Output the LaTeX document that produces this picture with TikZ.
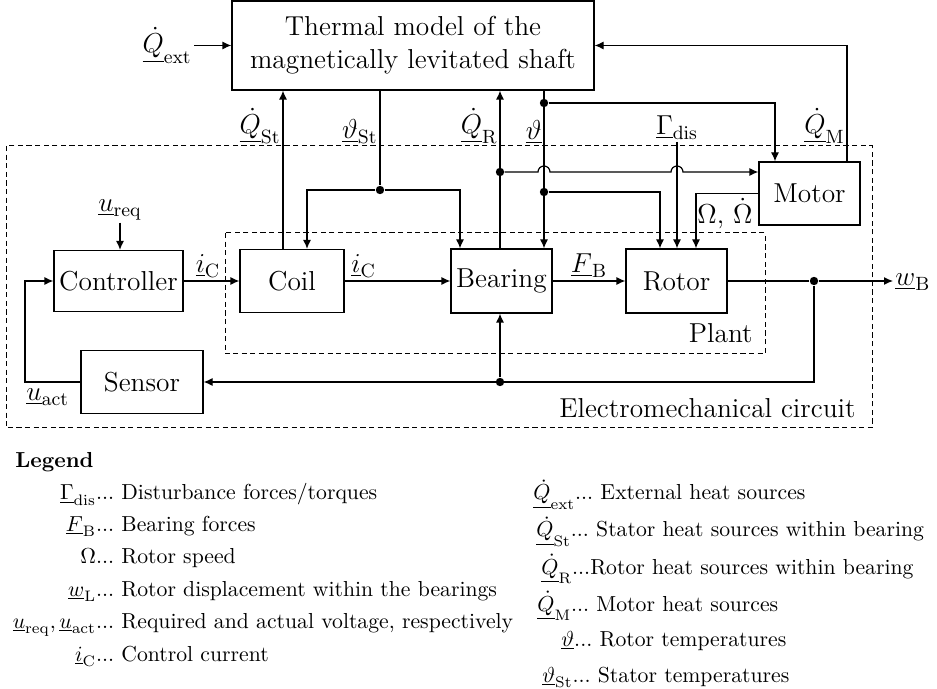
\RequirePackage{fix-cm}
\documentclass[tikz,border=0pt]{standalone}
\usetikzlibrary{arrows.meta}
\newcommand\diagfont{\fontsize{13.7}{16.4}\selectfont}
\newcommand\legfont{\fontsize{10.85}{13}\selectfont\frenchspacing}
\tikzset{
  blk/.style={draw, line width=0.6pt, inner sep=0pt, font=\diagfont},
  conn/.style={line width=0.6pt},
  arr/.style={conn, -{Latex[length=4.5pt,width=4pt]}},
  jdot/.style={circle, fill, inner sep=0pt, minimum size=4.2pt},
  dbox/.style={draw, line width=0.5pt, dash pattern=on 2.6pt off 1.7pt},
  lbl/.style={font=\diagfont, inner sep=1pt},
  leg/.style={font=\legfont, inner sep=0pt},
}
\begin{document}
\begin{tikzpicture}[x=0.5pt, y=-0.5pt]
\useasboundingbox (0,0) rectangle (937,689);

% dashed frames
\draw[dbox] (6,146) rectangle (872,428);
\draw[dbox] (225,233) rectangle (765,354);
\node[lbl, anchor=base east] (emc) at (858,418) {Electromechanical circuit};
\node[lbl, anchor=base east] (plant) at (755,343) {Plant};

% blocks
\node[blk, minimum width=181pt, minimum height=44.5pt, align=center] (thermal) at (413,45.5) {Thermal model of the\\magnetically levitated shaft};
\node[blk, minimum width=64.5pt, minimum height=30.5pt] (controller) at (118.5,281) {Controller};
\node[blk, minimum width=52pt, minimum height=31.5pt] (coil) at (292,281) {Coil};
\node[blk, minimum width=50.5pt, minimum height=32pt] (bearing) at (501.5,281) {Bearing};
\node[blk, minimum width=50.5pt, minimum height=32pt] (rotor) at (676.5,281) {Rotor};
\node[blk, minimum width=61pt, minimum height=31.5pt] (sensor) at (142,382) {Sensor};
\node[blk, minimum width=50.5pt, minimum height=31.5pt] (motor) at (809.5,193.5) {Motor};

% junction dots
\node[jdot] (dst) at (380,190) {};
\node[jdot] (dth1) at (544,103) {};
\node[jdot] (dqr) at (500,172) {};
\node[jdot] (dth2) at (544,192) {};
\node[jdot] (dw) at (814,281) {};
\node[jdot] (ds) at (500,382) {};
\coordinate (gtop) at (677,142);
\coordinate (fb) at (25,382);

% labels
\node[lbl, anchor=east] (qext) at (194,45.5) {$\underline{\dot{Q}}_{\mathrm{ext}}$};
\node[lbl, anchor=south east] (lqst) at (283,146) {$\underline{\dot{Q}}_{\mathrm{St}}$};
\node[lbl, anchor=south east] (lthst) at (380,146) {$\underline{\vartheta}_{\mathrm{St}}$};
\node[lbl, anchor=south east] (lqr) at (500,146) {$\underline{\dot{Q}}_{\mathrm{R}}$};
\node[lbl, anchor=south east] (lth) at (544,146) {$\underline{\vartheta}$};
\node[lbl, anchor=south east] (lqm) at (847,146) {$\underline{\dot{Q}}_{\mathrm{M}}$};
\node[lbl, anchor=south] (gdis) at (gtop) {$\underline{\Gamma}_{\mathrm{dis}}$};
\node[lbl, anchor=north west, inner sep=0.5pt] (lom) at (696,197) {$\Omega$, $\dot{\Omega}$};
\node[lbl] (ureq) at (120,210) {$\underline{u}_{\mathrm{req}}$};
\node[lbl, anchor=north west] (uact) at (24,386) {$\underline{u}_{\mathrm{act}}$};
\node[lbl, anchor=south] (ic1) at (208,280) {$\underline{i}_{\mathrm{C}}$};
\node[lbl, anchor=south west] (ic2) at (349,280) {$\underline{i}_{\mathrm{C}}$};
\node[lbl, anchor=south] (fb1) at (589,280) {$\underline{F}_{\mathrm{B}}$};
\node[lbl, anchor=west] (wb) at (893,282) {$\underline{w}_{\mathrm{B}}$};

% connectors
\draw[arr] (qext.east) -- (thermal.west);
\draw[arr] ([xshift=-4.5pt]coil.north) -- ([xshift=-4.5pt]coil.north |- thermal.south);
\draw[conn] (thermal.south -| dst) -- (dst);
\draw[arr] (dst) -| ([xshift=7.5pt]coil.north);
\draw[arr] (dst) -| ([xshift=-20.75pt]bearing.north);
\draw[arr] (bearing.north -| dqr) -- (thermal.south -| dqr);
\draw[arr] (thermal.south -| dth1) -- (bearing.north -| dth1);
\draw[arr] (dth1) -| ([xshift=-17.25pt]motor.north);
\draw[arr] (dqr) -- ([xshift=-3pt]dth1 |- dqr) arc[start angle=180, end angle=0, radius=3pt]
  -- ([xshift=-3pt]gtop |- dqr) arc[start angle=180, end angle=0, radius=3pt]
  -- (motor.west |- dqr);
\draw[arr] (gtop) -- (gtop |- rotor.north);
\draw[arr] (dth2) -| ([xshift=-8.25pt]rotor.north);
\draw[arr] (motor.west) -| ([xshift=9.75pt]rotor.north);
\draw[arr] ([xshift=18.75pt]motor.north) |- (thermal.east);
\draw[arr] (ureq.south) -- (ureq.south |- controller.north);
\draw[arr] (controller.east) -- (coil.west);
\draw[arr] (coil.east) -- (bearing.west);
\draw[arr] (bearing.east) -- (rotor.west);
\draw[conn] (rotor.east) -- (dw);
\draw[arr] (dw) -- (dw -| wb.west);
\draw[arr] (dw) |- (sensor.east);
\draw[arr] (ds) -- (bearing.south -| ds);
\draw[arr] (sensor.west) -- (fb) |- (controller.west);

% legend
\node[leg, anchor=base west, font=\legfont\bfseries] (legtitle) at (15,467) {Legend};
\node[leg, anchor=base east] (s1) at (114.5,500) {$\underline{\Gamma}_{\mathrm{dis}}$...};
\node[leg, anchor=base west] (t1) at (121,500) {Disturbance forces/torques};
\node[leg, anchor=base east] (s2) at (114.5,531) {$\underline{F}_{\mathrm{B}}$...};
\node[leg, anchor=base west] (t2) at (121,531) {Bearing forces};
\node[leg, anchor=base east] (s3) at (114.5,563) {$\Omega$...};
\node[leg, anchor=base west] (t3) at (121,563) {Rotor speed};
\node[leg, anchor=base east] (s4) at (114.5,596) {$\underline{w}_{\mathrm{L}}$...};
\node[leg, anchor=base west] (t4) at (121,596) {Rotor displacement within the bearings};
\node[leg, anchor=base east] (s5) at (114.5,628) {$\underline{u}_{\mathrm{req}},\underline{u}_{\mathrm{act}}$...};
\node[leg, anchor=base west] (t5) at (121,628) {Required and actual voltage, respectively};
\node[leg, anchor=base east] (s6) at (114.5,661) {$\underline{i}_{\mathrm{C}}$...};
\node[leg, anchor=base west] (t6) at (121,661) {Control current};

\node[leg, anchor=base west] (r1) at (533,500) {$\underline{\dot{Q}}_{\mathrm{ext}}$... External heat sources};
\node[leg, anchor=base west] (r2) at (536,537) {$\underline{\dot{Q}}_{\mathrm{St}}$... Stator heat sources within bearing};
\node[leg, anchor=base west] (r3) at (541,574) {$\underline{\dot{Q}}_{\mathrm{R}}$...Rotor heat sources within bearing};
\node[leg, anchor=base west] (r4) at (537,611) {$\underline{\dot{Q}}_{\mathrm{M}}$... Motor heat sources};
\node[leg, anchor=base west] (r5) at (561,646) {$\underline{\vartheta}$... Rotor temperatures};
\node[leg, anchor=base west] (r6) at (542,682) {$\underline{\vartheta}_{\mathrm{St}}$... Stator temperatures};
\end{tikzpicture}
\end{document}
